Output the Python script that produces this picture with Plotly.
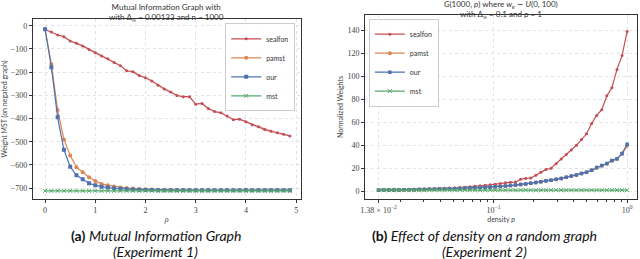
import plotly.graph_objects as go

# ---------------- Left panel: Mutual Information Graph ----------------
rho = [0.0, 0.125, 0.25, 0.375, 0.5, 0.625, 0.75, 0.875, 1.0, 1.125,
       1.25, 1.375, 1.5, 1.625, 1.75, 1.875, 2.0, 2.125, 2.25, 2.375,
       2.5, 2.625, 2.75, 2.875, 3.0, 3.125, 3.25, 3.375, 3.5, 3.625,
       3.75, 3.875, 4.0, 4.125, 4.25, 4.375, 4.5, 4.625, 4.75, 4.875]

sealfon_a = [-16, -27, -40, -47, -66, -76, -87, -102, -116, -130,
             -142, -158, -172, -194, -198, -215, -224, -238, -257, -273,
             -286, -301, -306, -306, -338, -335, -357, -370, -375, -389,
             -405, -403, -414, -427, -435, -447, -455, -461, -468, -475]
sealfon_a_std = [2, 2, 2, 3, 3, 3, 4, 5, 6, 6,
                 4, 3, 3, 3, 3, 4, 4, 5, 7, 8,
                 6, 4, 3, 3, 3, 3, 3, 4, 4, 4,
                 4, 4, 4, 6, 7, 8, 7, 5, 4, 3]
pamst_a = [-15, -165, -363, -490, -560, -610, -632, -653, -669, -682,
           -688, -693, -697, -700, -702, -704, -705, -706, -707, -707,
           -708, -708, -708, -709, -709, -709, -709, -709, -709, -709,
           -709, -709, -709, -709, -709, -709, -709, -709, -709, -709]
our_a = [-15, -179, -395, -535, -608, -645, -662, -679, -688, -694,
         -698, -701, -703, -705, -706, -707, -708, -708, -709, -709,
         -709, -709, -709, -709, -709, -709, -709, -709, -709, -709,
         -709, -709, -709, -709, -709, -709, -709, -709, -709, -709]
mst_a = [-712] * 40

# ---------------- Right panel: Effect of density ----------------
density = [0.01382, 0.01508, 0.01646, 0.01796, 0.01960, 0.02139, 0.02334, 0.02547,
           0.02780, 0.03034, 0.03311, 0.03613, 0.03943, 0.04303, 0.04696, 0.05125,
           0.05593, 0.06103, 0.06661, 0.07269, 0.07932, 0.08657, 0.09449, 0.1031,
           0.1125, 0.1228, 0.1340, 0.1462, 0.1596, 0.1742, 0.1901, 0.2074,
           0.2264, 0.2471, 0.2696, 0.2942, 0.3211, 0.3504, 0.3824, 0.4174,
           0.4555, 0.4971, 0.5425, 0.5920, 0.6461, 0.7051, 0.7694, 0.8397,
           0.9164, 1.0]

sealfon_b = [1.0, 1.1, 1.2, 1.3, 1.4, 1.5, 1.6, 1.7, 1.8, 1.9,
             2.0, 2.2, 2.4, 2.6, 2.8, 3.0, 3.3, 3.6, 4.0, 4.4,
             4.8, 5.2, 5.6, 6.2, 6.8, 7.5, 7.8, 8.0, 10.5, 11.2,
             11.5, 14.0, 16.5, 19.0, 20.0, 24.0, 28.0, 32.0, 36.0, 40.0,
             45.0, 50.0, 59.0, 66.0, 71.0, 83.0, 90.0, 106.0, 118.0, 139.0]
pamst_b = [1.0, 1.05, 1.1, 1.15, 1.2, 1.3, 1.35, 1.4, 1.5, 1.6,
           1.7, 1.8, 1.9, 2.0, 2.1, 2.2, 2.4, 2.6, 2.8, 3.0,
           3.2, 3.4, 3.6, 3.9, 4.2, 4.6, 5.0, 5.4, 5.9, 6.4,
           7.0, 7.6, 8.3, 9.0, 9.6, 10.3, 11.2, 12.1, 13.1, 14.2,
           15.4, 16.6, 18.2, 20.5, 22.2, 24.0, 26.5, 28.0, 33.0, 39.5]
our_b = [1.0, 1.05, 1.1, 1.15, 1.2, 1.3, 1.35, 1.4, 1.5, 1.6,
         1.7, 1.8, 1.9, 2.0, 2.1, 2.2, 2.4, 2.6, 2.8, 3.0,
         3.2, 3.4, 3.6, 3.9, 4.2, 4.6, 5.0, 5.4, 5.9, 6.4,
         7.0, 7.6, 8.3, 9.1, 9.6, 10.4, 11.2, 12.2, 13.2, 14.2,
         15.5, 16.6, 18.3, 20.6, 22.4, 24.2, 26.7, 28.2, 32.6, 41.0]
mst_b = [1.0] * 50

RED, ORANGE, BLUE, GREEN = "#C44E52", "#DD8452", "#4C72B0", "#55A868"
TICKFONT = dict(family="Liberation Serif, DejaVu Serif, serif", size=8, color="#444")
SANS = "Lato, DejaVu Sans, sans-serif"

fig = go.Figure()

# error band for sealfon (left)
upper = [v + s for v, s in zip(sealfon_a, sealfon_a_std)]
lower = [v - s for v, s in zip(sealfon_a, sealfon_a_std)]
fig.add_trace(go.Scatter(x=rho, y=upper, mode="lines", line=dict(width=0),
                         showlegend=False, hoverinfo="skip", xaxis="x", yaxis="y"))
fig.add_trace(go.Scatter(x=rho, y=lower, mode="lines", line=dict(width=0), fill="tonexty",
                         fillcolor="rgba(196,78,82,0.18)", showlegend=False,
                         hoverinfo="skip", xaxis="x", yaxis="y"))

def add_series(x, y, name, color, symbol, size, xa, ya, legend, width=1.2):
    fig.add_trace(go.Scatter(
        x=x, y=y, name=name, mode="lines+markers",
        line=dict(color=color, width=width),
        marker=dict(color=color, symbol=symbol, size=size, line=dict(width=0)),
        xaxis=xa, yaxis=ya, legend=legend))

add_series(rho, sealfon_a, "sealfon", RED, "circle", 3, "x", "y", "legend")
add_series(rho, pamst_a, "pamst", ORANGE, "circle", 4, "x", "y", "legend")
add_series(rho, our_a, "our", BLUE, "square", 4, "x", "y", "legend")
fig.add_trace(go.Scatter(x=rho, y=mst_a, name="mst", mode="lines+markers",
                         line=dict(color=GREEN, width=1.2),
                         marker=dict(color=GREEN, symbol="x-thin", size=4,
                                     line=dict(width=1, color=GREEN)),
                         xaxis="x", yaxis="y", legend="legend"))

add_series(density, sealfon_b, "sealfon", RED, "circle", 3, "x2", "y2", "legend2")
add_series(density, pamst_b, "pamst", ORANGE, "circle", 4, "x2", "y2", "legend2")
add_series(density, our_b, "our", BLUE, "square", 3.5, "x2", "y2", "legend2")
fig.add_trace(go.Scatter(x=density, y=mst_b, name="mst", mode="lines+markers",
                         line=dict(color=GREEN, width=1.2),
                         marker=dict(color=GREEN, symbol="x-thin", size=4,
                                     line=dict(width=1, color=GREEN)),
                         xaxis="x2", yaxis="y2", legend="legend2"))

axis_common = dict(showline=True, mirror=True, linecolor="#333", linewidth=1,
                   showgrid=True, gridcolor="#e3e3e3", griddash="dot", gridwidth=1,
                   zeroline=False, ticks="outside", ticklen=3, tickcolor="#333",
                   tickfont=TICKFONT)

fig.update_layout(
    width=640, height=259,
    margin=dict(l=0, r=0, t=0, b=0),
    paper_bgcolor="white", plot_bgcolor="white",
    showlegend=True,
    xaxis=dict(domain=[0.04375, 0.4656], range=[-0.245, 5.09],
               tickvals=[0, 1, 2, 3, 4, 5], anchor="y",
               title=dict(text="<i>ρ</i>", font=dict(family=TICKFONT["family"], size=8, color="#444"),
                          standoff=2),
               **axis_common),
    yaxis=dict(domain=[0.2317, 0.9266], range=[-747, 29],
               tickvals=[0, -100, -200, -300, -400, -500, -600, -700], anchor="x",
               title=dict(text="Weight MST (on negated graph)",
                          font=dict(family=SANS, size=7, color="#444"), standoff=3),
               **axis_common),
    xaxis2=dict(domain=[0.5672, 0.9953], type="log", range=[-1.96, 0.074], anchor="y2",
                tickvals=[0.01382, 0.1, 1],
                ticktext=["1.38 × 10<sup>−2</sup>", "10<sup>−1</sup>", "10<sup>0</sup>"],
                minor=dict(tickvals=[0.02, 0.03, 0.04, 0.05, 0.06, 0.07, 0.08, 0.09,
                                     0.2, 0.3, 0.4, 0.5, 0.6, 0.7, 0.8, 0.9],
                           ticks="outside", ticklen=2, tickcolor="#333", showgrid=False),
                title=dict(text="density <i>p</i>", font=dict(family=SANS, size=7, color="#444"),
                           standoff=2),
                **axis_common),
    yaxis2=dict(domain=[0.2317, 0.9421], range=[-6.7, 153.3], anchor="x2",
                tickvals=[0, 20, 40, 60, 80, 100, 120, 140],
                title=dict(text="Normalized Weights", font=dict(family=SANS, size=7, color="#444"),
                           standoff=3),
                **axis_common),
    legend=dict(x=0.457, y=0.91, xanchor="right", yanchor="top", traceorder="normal",
                bgcolor="rgba(255,255,255,0.9)", bordercolor="#ccc", borderwidth=1,
                font=dict(family=SANS, size=7, color="#333"), itemwidth=30,
                tracegroupgap=0),
    legend2=dict(x=0.573, y=0.928, xanchor="left", yanchor="top", traceorder="normal",
                 bgcolor="rgba(255,255,255,0.9)", bordercolor="#ccc", borderwidth=1,
                 font=dict(family=SANS, size=7, color="#333"), itemwidth=30,
                 tracegroupgap=0),
)

annotations = [
    dict(text="Mutual Information Graph with<br>with Δ<sub>∞</sub> = 0.00133 and n = 1000",
         x=163 / 640, y=1.0, xref="paper", yref="paper",
         xanchor="center", yanchor="top", showarrow=False,
         font=dict(family=SANS, size=8, color="#333")),
    dict(text="<i>G</i>(1000, <i>p</i>) where <i>w<sub>e</sub></i> ∼ <i>U</i>(0, 100)<br>with Δ<sub>∞</sub> = 0.1 and ρ = 1",
         x=500 / 640, y=1.01, xref="paper", yref="paper",
         xanchor="center", yanchor="top", showarrow=False,
         font=dict(family=SANS, size=8, color="#333")),
    dict(text="<b>(a)</b> <i>Mutual Information Graph</i>",
         x=152 / 640, y=1 - 235 / 259, xref="paper", yref="paper",
         xanchor="center", yanchor="middle", showarrow=False,
         font=dict(family=SANS, size=14, color="#111")),
    dict(text="<i>(Experiment 1)</i>",
         x=152 / 640, y=1 - 251 / 259, xref="paper", yref="paper",
         xanchor="center", yanchor="middle", showarrow=False,
         font=dict(family=SANS, size=14, color="#111")),
    dict(text="<b>(b)</b> <i>Effect of density on a random graph</i>",
         x=483 / 640, y=1 - 235 / 259, xref="paper", yref="paper",
         xanchor="center", yanchor="middle", showarrow=False,
         font=dict(family=SANS, size=14, color="#111")),
    dict(text="<i>(Experiment 2)</i>",
         x=483 / 640, y=1 - 251 / 259, xref="paper", yref="paper",
         xanchor="center", yanchor="middle", showarrow=False,
         font=dict(family=SANS, size=14, color="#111")),
]
fig.update_layout(annotations=annotations)

fig.write_html("out.html", config={"displayModeBar": False},
               post_script="document.body.style.margin='0';document.body.style.padding='0';")
